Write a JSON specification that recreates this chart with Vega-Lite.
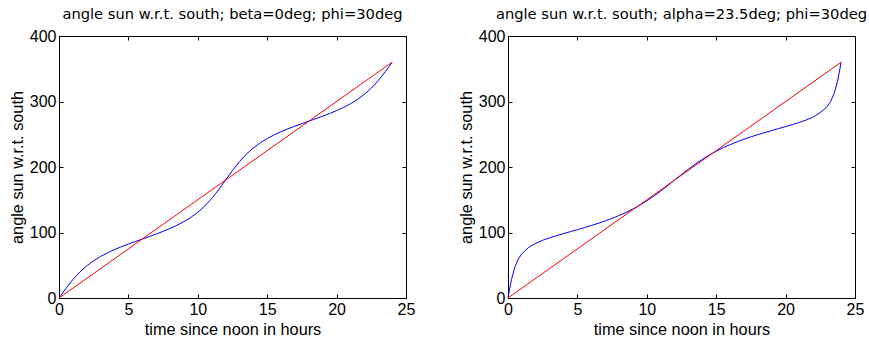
{
  "$schema": "https://vega.github.io/schema/vega-lite/v6.json",
  "background": "white",
  "padding": {"left": 8, "top": 6, "right": 3, "bottom": 5},
  "spacing": 41,
  "config": {
    "font": "Liberation Sans",
    "view": {"stroke": "black", "strokeWidth": 1},
    "axis": {
      "grid": false,
      "domainColor": "black",
      "tickColor": "black",
      "tickSize": -4,
      "labelPadding": 7,
      "labelColor": "black",
      "labelFont": "Liberation Sans",
      "labelFontSize": 16,
      "titleFont": "Liberation Sans",
      "titleFontSize": 16.3,
      "titleFontWeight": "normal",
      "titleColor": "black",
      "labelOverlap": false,
      "labelFlush": false,
      "labelBound": false
    },
    "title": {"font": "DejaVu Sans", "fontSize": 14.7, "fontWeight": "normal", "color": "black", "offset": 6}
  },
  "datasets": {
    "beta0": [
      {"t": 0, "a": 0}, {"t": 0.5, "a": 14.75}, {"t": 1, "a": 28.19}, {"t": 1.5, "a": 39.64}, {"t": 2, "a": 49.11},
      {"t": 2.5, "a": 56.91}, {"t": 3, "a": 63.43}, {"t": 3.5, "a": 69.01}, {"t": 4, "a": 73.9}, {"t": 4.5, "a": 78.3},
      {"t": 5, "a": 82.37}, {"t": 5.5, "a": 86.23}, {"t": 6, "a": 90}, {"t": 6.5, "a": 93.77}, {"t": 7, "a": 97.63},
      {"t": 7.5, "a": 101.7}, {"t": 8, "a": 106.1}, {"t": 8.5, "a": 110.99}, {"t": 9, "a": 116.57}, {"t": 9.5, "a": 123.09},
      {"t": 10, "a": 130.89}, {"t": 10.5, "a": 140.36}, {"t": 11, "a": 151.81}, {"t": 11.5, "a": 165.25}, {"t": 12, "a": 180},
      {"t": 12.5, "a": 194.75}, {"t": 13, "a": 208.19}, {"t": 13.5, "a": 219.64}, {"t": 14, "a": 229.11}, {"t": 14.5, "a": 236.91},
      {"t": 15, "a": 243.43}, {"t": 15.5, "a": 249.01}, {"t": 16, "a": 253.9}, {"t": 16.5, "a": 258.3}, {"t": 17, "a": 262.37},
      {"t": 17.5, "a": 266.23}, {"t": 18, "a": 270}, {"t": 18.5, "a": 273.77}, {"t": 19, "a": 277.63}, {"t": 19.5, "a": 281.7},
      {"t": 20, "a": 286.1}, {"t": 20.5, "a": 290.99}, {"t": 21, "a": 296.57}, {"t": 21.5, "a": 303.09}, {"t": 22, "a": 310.89},
      {"t": 22.5, "a": 320.36}, {"t": 23, "a": 331.81}, {"t": 23.5, "a": 345.25}, {"t": 24, "a": 360}
    ],
    "alpha235": [
      {"t": 0, "a": 0}, {"t": 0.1, "a": 11.99}, {"t": 0.25, "a": 28.12}, {"t": 0.5, "a": 47.6}, {"t": 0.75, "a": 59.74},
      {"t": 1, "a": 67.65}, {"t": 1.5, "a": 77.42}, {"t": 2, "a": 83.56}, {"t": 2.5, "a": 88.11}, {"t": 3, "a": 91.86},
      {"t": 3.5, "a": 95.2}, {"t": 4, "a": 98.31}, {"t": 4.5, "a": 101.34}, {"t": 5, "a": 104.35}, {"t": 5.5, "a": 107.43},
      {"t": 6, "a": 110.64}, {"t": 6.5, "a": 114.02}, {"t": 7, "a": 117.65}, {"t": 7.5, "a": 121.58}, {"t": 8, "a": 125.89},
      {"t": 8.5, "a": 130.64}, {"t": 9, "a": 135.92}, {"t": 9.5, "a": 141.78}, {"t": 10, "a": 148.3}, {"t": 10.5, "a": 155.47},
      {"t": 11, "a": 163.24}, {"t": 11.5, "a": 171.49}, {"t": 12, "a": 180}, {"t": 12.5, "a": 188.51}, {"t": 13, "a": 196.76},
      {"t": 13.5, "a": 204.53}, {"t": 14, "a": 211.7}, {"t": 14.5, "a": 218.22}, {"t": 15, "a": 224.08}, {"t": 15.5, "a": 229.36},
      {"t": 16, "a": 234.11}, {"t": 16.5, "a": 238.42}, {"t": 17, "a": 242.35}, {"t": 17.5, "a": 245.98}, {"t": 18, "a": 249.36},
      {"t": 18.5, "a": 252.57}, {"t": 19, "a": 255.65}, {"t": 19.5, "a": 258.66}, {"t": 20, "a": 261.69}, {"t": 20.5, "a": 264.8},
      {"t": 21, "a": 268.14}, {"t": 21.5, "a": 271.89}, {"t": 22, "a": 276.44}, {"t": 22.5, "a": 283.11}, {"t": 23, "a": 292.35},
      {"t": 23.25, "a": 300.26}, {"t": 23.5, "a": 312.4}, {"t": 23.75, "a": 331.88}, {"t": 23.9, "a": 348.01}, {"t": 24, "a": 360}
    ],
    "diagonal": [{"t": 0, "a": 0}, {"t": 24, "a": 360}]
  },
  "hconcat": [
    {
      "width": 347,
      "height": 262,
      "title": "angle sun w.r.t. south; beta=0deg; phi=30deg",
      "layer": [
        {
          "data": {"name": "beta0"},
          "mark": {"type": "line", "color": "#0000ff", "strokeWidth": 1},
          "encoding": {
            "x": {"field": "t", "type": "quantitative", "scale": {"domain": [0, 25], "nice": false},
                  "axis": {"orient": "bottom", "values": [0, 5, 10, 15, 20, 25], "title": "time since noon in hours", "titlePadding": 4}},
            "y": {"field": "a", "type": "quantitative", "scale": {"domain": [0, 400], "nice": false},
                  "axis": {"orient": "left", "values": [0, 100, 200, 300, 400], "title": "angle sun w.r.t. south", "titlePadding": 4}}
          }
        },
        {
          "data": {"name": "diagonal"},
          "mark": {"type": "line", "color": "#ff0000", "strokeWidth": 1},
          "encoding": {
            "x": {"field": "t", "type": "quantitative", "axis": {"orient": "top", "values": [5, 10, 15, 20], "labels": false, "title": null}},
            "y": {"field": "a", "type": "quantitative", "axis": {"orient": "right", "values": [100, 200, 300], "labels": false, "title": null}}
          }
        }
      ],
      "resolve": {"axis": {"x": "independent", "y": "independent"}}
    },
    {
      "width": 347,
      "height": 262,
      "title": "angle sun w.r.t. south; alpha=23.5deg; phi=30deg",
      "layer": [
        {
          "data": {"name": "alpha235"},
          "mark": {"type": "line", "color": "#0000ff", "strokeWidth": 1},
          "encoding": {
            "x": {"field": "t", "type": "quantitative", "scale": {"domain": [0, 25], "nice": false},
                  "axis": {"orient": "bottom", "values": [0, 5, 10, 15, 20, 25], "title": "time since noon in hours", "titlePadding": 4}},
            "y": {"field": "a", "type": "quantitative", "scale": {"domain": [0, 400], "nice": false},
                  "axis": {"orient": "left", "values": [0, 100, 200, 300, 400], "title": "angle sun w.r.t. south", "titlePadding": 4}}
          }
        },
        {
          "data": {"name": "diagonal"},
          "mark": {"type": "line", "color": "#ff0000", "strokeWidth": 1},
          "encoding": {
            "x": {"field": "t", "type": "quantitative", "axis": {"orient": "top", "values": [5, 10, 15, 20], "labels": false, "title": null}},
            "y": {"field": "a", "type": "quantitative", "axis": {"orient": "right", "values": [100, 200, 300], "labels": false, "title": null}}
          }
        }
      ],
      "resolve": {"axis": {"x": "independent", "y": "independent"}}
    }
  ]
}
